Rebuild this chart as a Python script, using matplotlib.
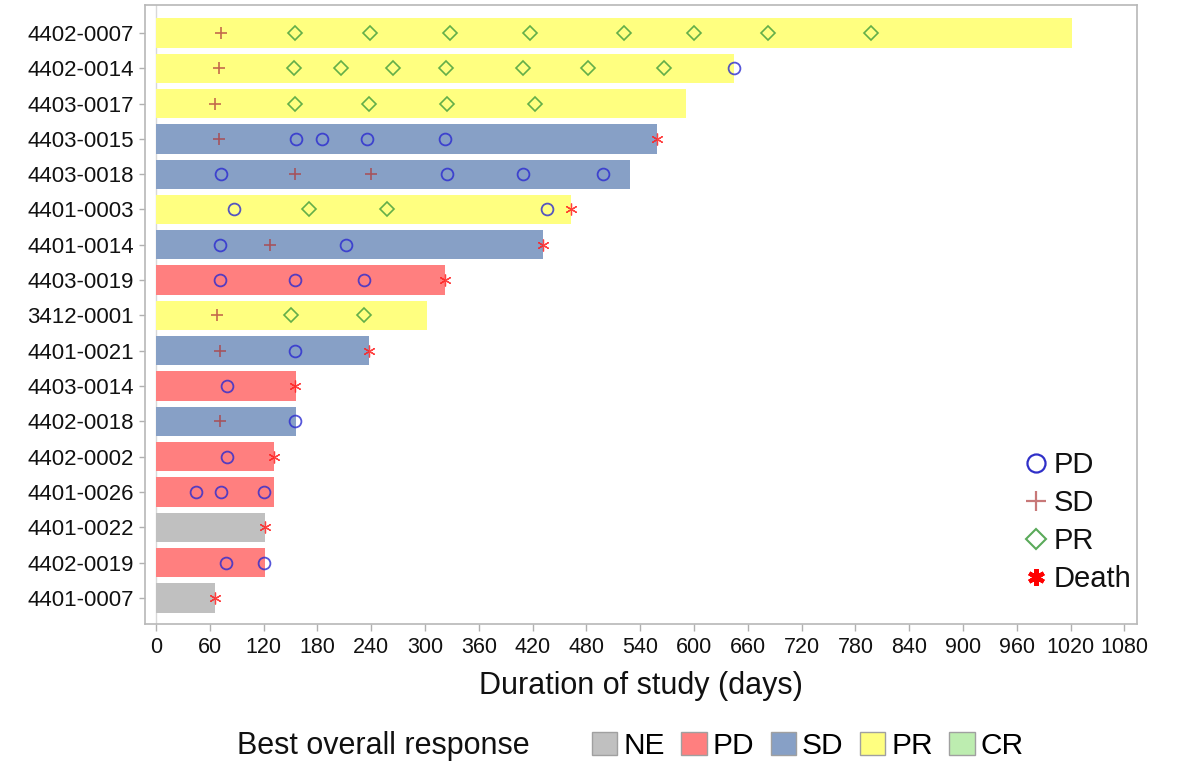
import matplotlib
matplotlib.use("Agg")
import matplotlib.pyplot as plt
from matplotlib.lines import Line2D
from matplotlib.patches import Patch

plt.rcParams['font.family'] = ['Liberation Sans', 'DejaVu Sans']

# Subjects, ordered from longest to shortest time on study
subjects = ["4402-0007", "4402-0014", "4403-0017", "4403-0015", "4403-0018",
            "4401-0003", "4401-0014", "4403-0019", "3412-0001", "4401-0021",
            "4403-0014", "4402-0018", "4402-0002", "4401-0026", "4401-0022",
            "4402-0019", "4401-0007"]
best_response = ["PR", "PR", "PR", "SD", "SD", "PR", "SD", "PD", "PR", "SD",
                 "PD", "SD", "PD", "PD", "NE", "PD", "NE"]
duration = [1021, 645, 591, 559, 528, 463, 431, 322, 302, 238,
            156, 156, 132, 131, 122, 121, 66]

# Assessment days per subject
pd_days = [[], [645], [], [156, 185, 235, 322], [72, 325, 409, 498],
           [87, 436], [71, 212], [71, 155, 232], [], [155],
           [79], [155], [79], [44, 72, 120], [], [78, 120], []]
sd_days = [[72], [70], [66], [70], [155, 240],
           [], [127], [], [68], [71],
           [], [71], [], [], [], [], []]
pr_days = [[155, 239, 328, 417, 522, 600, 683, 797],
           [154, 206, 264, 323, 409, 482, 566],
           [155, 238, 324, 423], [], [],
           [170, 258], [], [], [150, 232], [],
           [], [], [], [], [], [], []]
death_day = [None, None, None, 559, None, 463, 431, 322, None, 238,
             155, None, 132, None, 122, None, 66]

response_levels = ["NE", "PD", "SD", "PR", "CR"]
bar_colors = {"NE": "#C0C0C0", "PD": "#FF7F7F", "SD": "#87A0C6",
              "PR": "#FFFF80", "CR": "#BDEDB0"}
x_ticks = list(range(0, 1081, 60))

fig = plt.figure(figsize=(11.85, 7.61), dpi=100)
ax = fig.add_axes([0.1224, 0.18, 0.8371, 0.8134])

rows = list(range(len(subjects)))
ax.axvline(0, color="#D8D8D8", lw=1, zorder=0)
ax.barh(rows, duration, height=0.83,
        color=[bar_colors[r] for r in best_response], zorder=1)

mk_pd = dict(marker="o", ms=8.5, mfc="none", mec="#2B2BD0", mew=1.3,
             ls="none", alpha=0.8)
mk_sd = dict(marker="+", ms=9, mec="#B03A3A", mew=1.2, ls="none", alpha=0.75)
mk_pr = dict(marker="D", ms=7, mfc="none", mec="#3C9A3C", mew=1.2,
             ls="none", alpha=0.8)
mk_death = dict(marker=(6, 2, 0), ms=8.5, mec="#FF2020", mew=0.9, ls="none",
                alpha=0.85)

for i in rows:
    if sd_days[i]:
        ax.plot(sd_days[i], [i] * len(sd_days[i]), zorder=3, **mk_sd)
    if pr_days[i]:
        ax.plot(pr_days[i], [i] * len(pr_days[i]), zorder=3, **mk_pr)
    if pd_days[i]:
        ax.plot(pd_days[i], [i] * len(pd_days[i]), zorder=3, **mk_pd)
    if death_day[i] is not None:
        ax.plot([death_day[i]], [i], zorder=4, **mk_death)

ax.set_xlim(-12.3, 1094)
ax.set_ylim(len(subjects) - 1 + 0.74, -0.79)
ax.set_yticks(rows)
ax.set_yticklabels(subjects, fontsize=16, color="#111111")
ax.set_xticks(x_ticks)
ax.set_xticklabels([str(t) for t in x_ticks], fontsize=15.5, color="#111111")
ax.tick_params(axis="y", length=4, width=1, color="#B0B0B0", pad=4)
ax.tick_params(axis="x", length=5, width=1, color="#B0B0B0", pad=4)
for s in ax.spines.values():
    s.set_color("#B8B8B8")
    s.set_linewidth(1.2)
ax.set_xlabel("Duration of study (days)", fontsize=22, color="#111111",
              labelpad=10)

# Assessment legend inside the plot
ev_handles = [
    Line2D([], [], marker="o", ms=13, mfc="none", mec="#3030C8", mew=1.6, ls="none"),
    Line2D([], [], marker="+", ms=14, mec="#C87878", mew=1.6, ls="none"),
    Line2D([], [], marker="D", ms=10, mfc="none", mec="#5AAA5A", mew=1.5, ls="none"),
    Line2D([], [], marker=(6, 2, 0), ms=12, mec="#FF0000", mew=3, ls="none"),
]
ev_labels = ["PD", "SD", "PR", "Death"]
leg = ax.legend(ev_handles, ev_labels, loc="lower right",
                bbox_to_anchor=(0.997, 0.045), frameon=False, fontsize=21,
                handlelength=0.9, handletextpad=0.15, labelspacing=0.34,
                borderpad=0.1, borderaxespad=0)
for t in leg.get_texts():
    t.set_color("#111111")

# Best overall response legend below the plot
fig.text(237 / 1185, 1 - 746 / 761, "Best overall response", fontsize=22,
         color="#111111", va="center", ha="left")
resp_handles = [Patch(facecolor=bar_colors[r], edgecolor="#A0A0A0", lw=1)
                for r in response_levels]
fig.legend(resp_handles, response_levels, loc="center left",
           bbox_to_anchor=(589 / 1185, 1 - 746 / 761), ncol=5, frameon=False,
           fontsize=21.5, handlelength=0.85, handleheight=0.8,
           handletextpad=0.2, columnspacing=0.55, borderpad=0.1,
           borderaxespad=0)

fig.savefig("out.png", dpi=100, facecolor="white")
